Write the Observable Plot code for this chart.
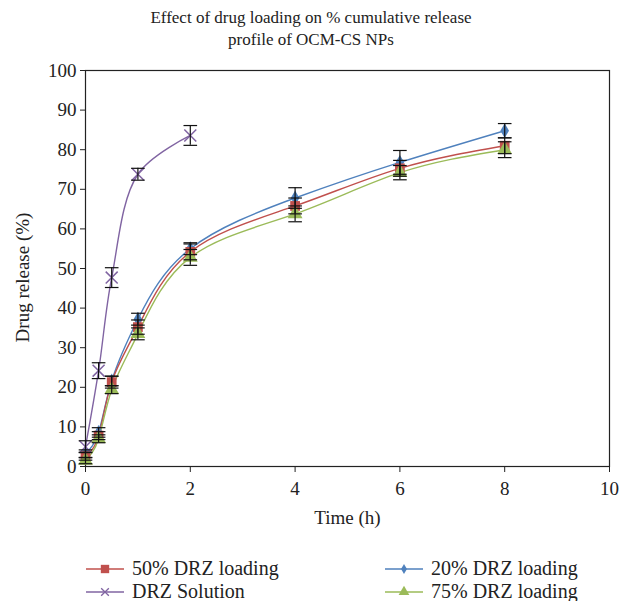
<!DOCTYPE html>
<html>
<head>
<meta charset="utf-8">
<script src="https://cdn.jsdelivr.net/npm/d3@7"></script>
<script src="https://cdn.jsdelivr.net/npm/@observablehq/plot@0.6"></script>
<style>
  body { margin: 0; background: #fff; font-family: "Liberation Serif", "DejaVu Serif", serif; }
  #wrap { position: relative; width: 622px; height: 601px; }
  #title { position: absolute; top: 7px; left: 0; width: 622px; text-align: center; font-size: 17px; line-height: 22px; color: #222; }
  #chart { position: absolute; top: 50px; left: 0; }
  .leg { position: absolute; font-size: 20px; color: #222; display: flex; align-items: center; }
  .leg svg { margin-right: 8px; }
</style>
</head>
<body>
<div id="wrap">
  <div id="chart"></div>
  <div id="title">Effect of drug loading on % cumulative release<br>profile of OCM-CS NPs</div>
  <div id="legend"></div>
</div>
<script>
const time = [0, 0.25, 0.5, 1, 2, 4, 6, 8];
const load20 = [3.2, 8.6, 21.6, 37.2, 55.0, 67.8, 76.8, 84.8];
const err20 = [1.0, 1.2, 1.2, 1.5, 1.5, 2.6, 3.0, 1.8];
const load50 = [2.6, 7.8, 21.3, 35.2, 54.2, 65.8, 75.3, 81.0];
const err50 = [1.0, 1.0, 1.5, 1.8, 2.0, 2.0, 2.0, 2.0];
const load75 = [1.5, 7.0, 19.4, 33.5, 52.8, 63.8, 74.2, 80.0];
const err75 = [0.8, 1.0, 1.0, 1.5, 2.0, 2.0, 1.8, 2.0];
const solTime = [0, 0.25, 0.5, 1, 2];
const solution = [5.0, 24.2, 47.7, 73.8, 83.6];
const solErr = [1.5, 2.0, 2.5, 1.5, 2.5];

const seriesNames = ["50% DRZ loading", "20% DRZ loading", "DRZ Solution", "75% DRZ loading"];
const seriesColors = ["#C0504D", "#4F81BD", "#8064A2", "#9BBB59"];
const seriesSymbols = ["square", "diamond", "times", "triangle"];
const xTicks = [0, 2, 4, 6, 8, 10];
const yTicks = [0, 10, 20, 30, 40, 50, 60, 70, 80, 90, 100];

function rows(name, ts, vs, es) {
  return ts.map((t, i) => ({series: name, t, v: vs[i], e: es[i]}));
}
const data = [
  ...rows("20% DRZ loading", time, load20, err20),
  ...rows("50% DRZ loading", time, load50, err50),
  ...rows("75% DRZ loading", time, load75, err75),
  ...rows("DRZ Solution", solTime, solution, solErr)
];
const order = ["20% DRZ loading", "50% DRZ loading", "75% DRZ loading", "DRZ Solution"];
const colorOf = Object.fromEntries(seriesNames.map((n, i) => [n, seriesColors[i]]));
const symOf = Object.fromEntries(seriesNames.map((n, i) => [n, seriesSymbols[i]]));
const capHalf = 0.13;

const marks = [
  Plot.frame({stroke: "#222", strokeWidth: 1.2}),
  Plot.axisY({ticks: yTicks, tickSize: 5, tickPadding: 4, fontSize: 19, label: null, anchor: "left"}),
  Plot.axisX({ticks: xTicks, tickSize: 6, tickPadding: 9, fontSize: 19, label: null, anchor: "bottom"}),
  Plot.text(["Drug release (%)"], {frameAnchor: "left", textAnchor: "middle", dx: -63, dy: 9, rotate: -90, fontSize: 19, text: d => d}),
  Plot.text(["Time (h)"], {frameAnchor: "bottom", dy: 57, fontSize: 19, text: d => d})
];
for (const name of order) {
  const d = data.filter(r => r.series === name);
  marks.push(Plot.line(d, {x: "t", y: "v", stroke: colorOf[name], strokeWidth: 1.4,
    curve: name === "DRZ Solution" ? "catmull-rom" : "natural"}));
}
for (const name of order) {
  const d = data.filter(r => r.series === name);
  const sym = symOf[name];
  const stroke = sym === "times";
  marks.push(Plot.dot(d, {
    x: "t", y: "v", symbol: sym,
    r: sym === "diamond" ? 4.5 : sym === "triangle" ? 5.5 : 5.5,
    fill: stroke ? "none" : colorOf[name],
    stroke: stroke ? colorOf[name] : "none",
    strokeWidth: 1.5
  }));
}
marks.push(Plot.ruleX(data, {x: "t", y1: d => d.v - d.e, y2: d => d.v + d.e, stroke: "#111", strokeWidth: 1.2}));
marks.push(Plot.link(data, {x1: d => d.t - capHalf, x2: d => d.t + capHalf, y1: d => d.v + d.e, y2: d => d.v + d.e, stroke: "#111", strokeWidth: 1.2}));
marks.push(Plot.link(data, {x1: d => d.t - capHalf, x2: d => d.t + capHalf, y1: d => d.v - d.e, y2: d => d.v - d.e, stroke: "#111", strokeWidth: 1.2}));

const chart = Plot.plot({
  width: 622,
  height: 486,
  marginTop: 20,
  marginLeft: 85,
  marginRight: 13,
  marginBottom: 70,
  style: {fontFamily: "'Liberation Serif', 'DejaVu Serif', serif", fontSize: "19px", color: "#222", background: "transparent"},
  x: {domain: [0, 10]},
  y: {domain: [0, 100]},
  marks
});
document.getElementById("chart").appendChild(chart);

// legend
const legendPos = [
  {name: "50% DRZ loading", left: 86, top: 557},
  {name: "20% DRZ loading", left: 385, top: 557},
  {name: "DRZ Solution", left: 86, top: 580},
  {name: "75% DRZ loading", left: 385, top: 580}
];
const leg = document.getElementById("legend");
for (const p of legendPos) {
  const div = document.createElement("div");
  div.className = "leg";
  div.style.left = p.left + "px";
  div.style.top = p.top + "px";
  const c = colorOf[p.name];
  const sym = symOf[p.name];
  const s = d3.create("svg").attr("width", 38).attr("height", 20);
  s.append("line").attr("x1", 0).attr("x2", 38).attr("y1", 10).attr("y2", 10).attr("stroke", c).attr("stroke-width", 1.5);
  const symbolMap = {square: d3.symbolSquare, diamond: d3.symbolDiamond, triangle: d3.symbolTriangle, times: d3.symbolTimes};
  const size = sym === "square" ? 70 : sym === "diamond" ? 30 : sym === "triangle" ? 50 : 40;
  s.append("path").attr("transform", "translate(19,10)").attr("d", d3.symbol(symbolMap[sym], size)())
    .attr("fill", sym === "times" ? "none" : c).attr("stroke", sym === "times" ? c : "none").attr("stroke-width", 1.3);
  div.appendChild(s.node());
  const span = document.createElement("span");
  span.textContent = p.name;
  div.appendChild(span);
  leg.appendChild(div);
}
</script>
</body>
</html>
